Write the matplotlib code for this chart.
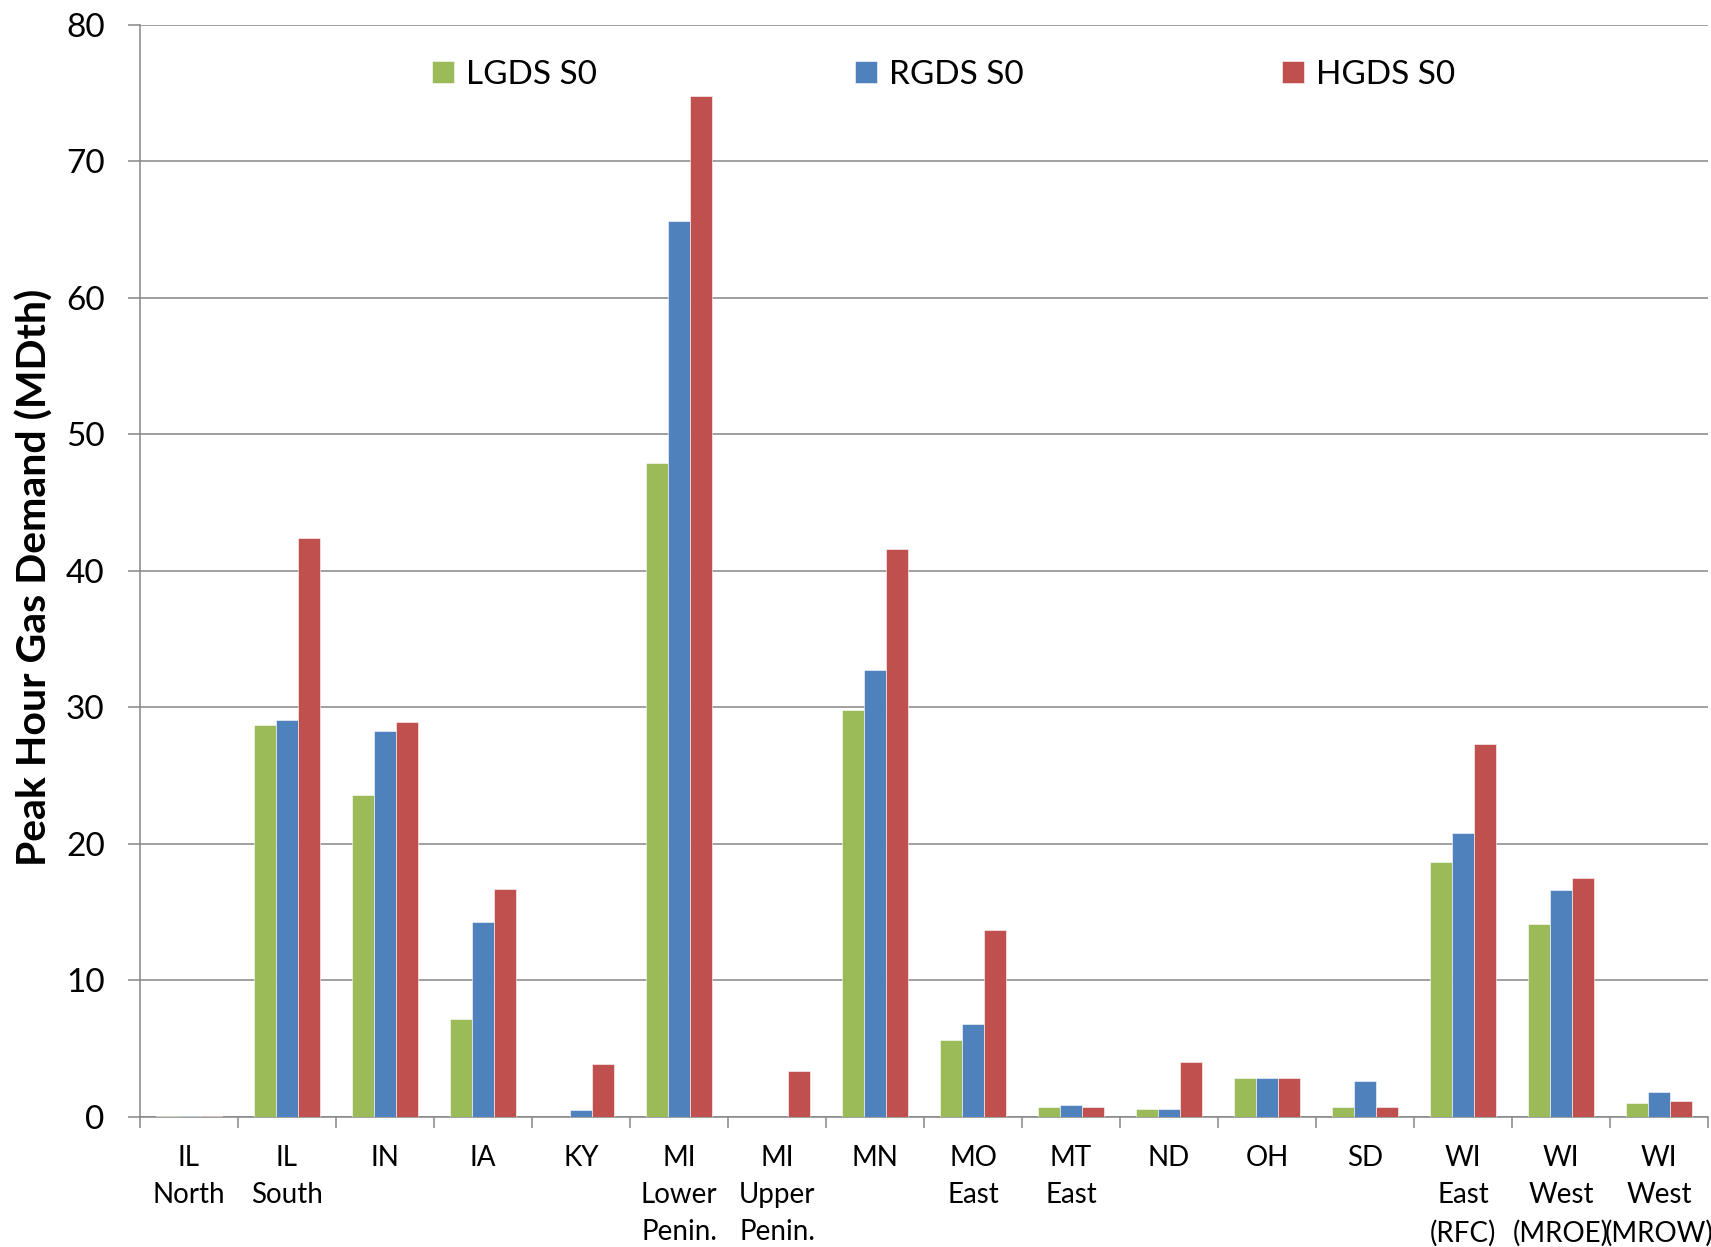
import matplotlib.pyplot as plt
import numpy as np
from matplotlib.ticker import FixedLocator

# Data (MDth)
regions = [
    "IL\nNorth", "IL\nSouth", "IN", "IA", "KY", "MI\nLower\nPenin.", "MI\nUpper\nPenin.",
    "MN", "MO\nEast", "MT\nEast", "ND", "OH", "SD", "WI\nEast\n(RFC)",
    "WI\nWest\n(MROE)", "WI\nWest\n(MROW)",
]
lgds_s0 = [0.05, 28.7, 23.6, 7.2, 0.0, 47.9, 0.0, 29.8, 5.6, 0.7, 0.6, 2.85, 0.75, 18.7, 14.1, 1.05]
rgds_s0 = [0.05, 29.1, 28.3, 14.3, 0.5, 65.6, 0.0, 32.7, 6.8, 0.9, 0.6, 2.85, 2.6, 20.8, 16.6, 1.85]
hgds_s0 = [0.05, 42.4, 28.9, 16.7, 3.9, 74.8, 3.4, 41.6, 13.7, 0.7, 4.0, 2.85, 0.75, 27.3, 17.5, 1.2]
series_names = ["LGDS S0", "RGDS S0", "HGDS S0"]
y_ticks = [0, 10, 20, 30, 40, 50, 60, 70, 80]

colors = ["#9BBB59", "#4F81BD", "#C0504D"]
grid_col = "#868686"

plt.rcParams["font.family"] = ["Lato", "DejaVu Sans"]

fig = plt.figure(figsize=(17.11, 12.47), dpi=100)
ax = fig.add_axes([0.0818, 0.1043, 0.9165, 0.8759])

x = np.arange(len(regions))
w = 0.222
bars = []
for j, (vals, name) in enumerate(zip([lgds_s0, rgds_s0, hgds_s0], series_names)):
    b = ax.bar(x + (j - 1) * w, vals, width=w, color=colors[j], label=name,
               edgecolor="white", linewidth=0.4, zorder=3)
    bars.append(b)

ax.set_xlim(-0.5, len(regions) - 0.5)
ax.set_ylim(0, 80)
ax.set_yticks(y_ticks)
ax.tick_params(axis="y", labelsize=24, length=8.4, width=1.1, color=grid_col, pad=17)
ax.yaxis.grid(True, color=grid_col, linewidth=1.1, zorder=0)

# category labels at centres, tick marks at the boundaries
ax.set_xticks(x)
ax.set_xticklabels(regions, fontsize=20, linespacing=1.52, va="top")
ax.tick_params(axis="x", which="major", length=0, pad=20.5)
ax.xaxis.set_minor_locator(FixedLocator(np.arange(len(regions) + 1) - 0.5))
ax.tick_params(axis="x", which="minor", length=8, width=1.1, color=grid_col)

for side in ["top", "right"]:
    ax.spines[side].set_visible(False)
for side in ["left", "bottom"]:
    ax.spines[side].set_color(grid_col)
    ax.spines[side].set_linewidth(1.1)

ax.set_ylabel("Peak Hour Gas Demand (MDth)", fontsize=29.5, fontweight="bold")
ax.yaxis.set_label_coords(-0.055, 0.494)

# three single-entry legends spread along the top
legend_x = [0.186, 0.4557, 0.728]
for j, lx in enumerate(legend_x):
    leg = ax.legend(handles=[bars[j]], labels=[series_names[j]], loc="center left",
                    bbox_to_anchor=(lx, 0.954), frameon=False, fontsize=24,
                    handlelength=0.66, handleheight=0.66, handletextpad=0.36,
                    borderpad=0, borderaxespad=0)
    if j < len(legend_x) - 1:
        ax.add_artist(leg)

fig.savefig("out.png", dpi=100)
